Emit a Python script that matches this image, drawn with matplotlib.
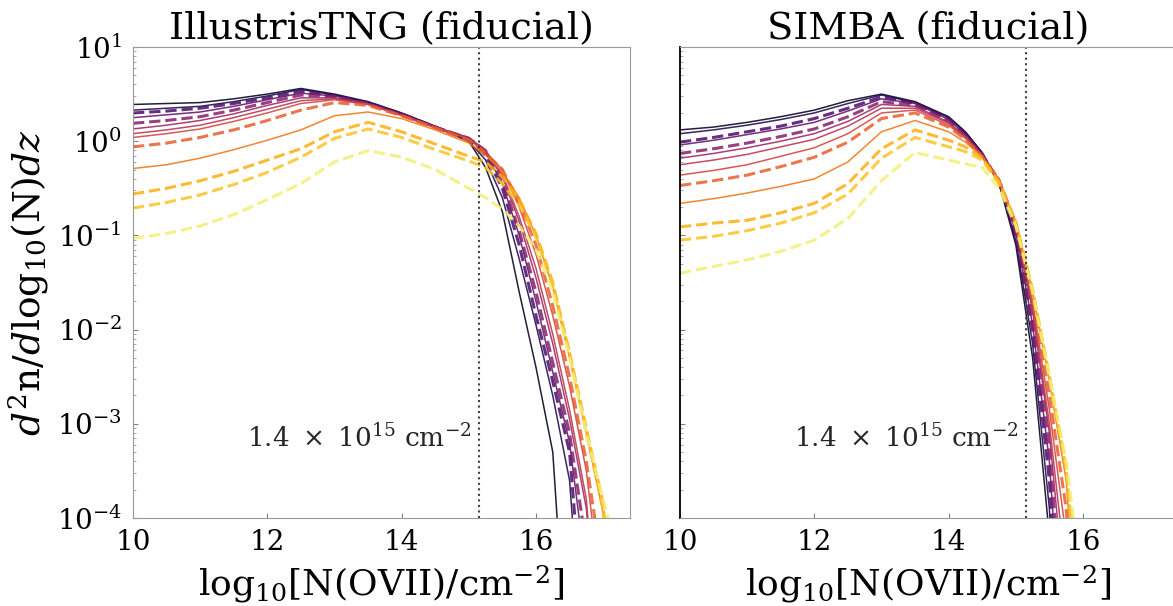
import numpy as np
import matplotlib
matplotlib.use("Agg")
import matplotlib.pyplot as plt

plt.rcParams["font.family"] = ["DejaVu Serif"]
plt.rcParams["mathtext.fontset"] = "dejavuserif"

# column density grid, log10 N [cm^-2]
x_tng = [10, 10.5, 11, 11.5, 12, 12.5, 13, 13.5, 14, 14.5, 15,
         15.25, 15.5, 15.75, 16, 16.25, 16.5, 16.75, 17, 17.25]
x_simba = [10, 10.5, 11, 11.5, 12, 12.5, 13, 13.5, 14, 14.25,
           14.5, 14.75, 15, 15.25, 15.5, 15.75, 16]

# log10 of d2n/dlogN dz, one row per run (dark -> light)
tng = [
    [0.39, 0.40, 0.41, 0.45, 0.50, 0.56, 0.50, 0.42, 0.30, 0.16, 0.00, -0.28, -0.75, -1.6, -2.4, -3.3, -6, -6, -6, -6],
    [0.33, 0.35, 0.37, 0.42, 0.48, 0.55, 0.49, 0.41, 0.29, 0.15, 0.00, -0.20, -0.60, -1.25, -1.95, -2.7, -3.6, -6, -6, -6],
    [0.30, 0.32, 0.35, 0.40, 0.46, 0.53, 0.48, 0.41, 0.29, 0.15, 0.02, -0.15, -0.50, -1.1, -1.85, -2.55, -3.3, -5.5, -6, -6],
    [0.25, 0.28, 0.31, 0.37, 0.44, 0.51, 0.48, 0.40, 0.29, 0.15, 0.03, -0.12, -0.45, -1.0, -1.7, -2.45, -3.2, -4.6, -6, -6],
    [0.19, 0.22, 0.26, 0.33, 0.41, 0.49, 0.47, 0.40, 0.28, 0.15, 0.03, -0.10, -0.42, -0.95, -1.6, -2.35, -3.1, -4.3, -6, -6],
    [0.13, 0.17, 0.22, 0.29, 0.38, 0.46, 0.46, 0.40, 0.28, 0.15, 0.04, -0.10, -0.38, -0.85, -1.45, -2.15, -2.95, -3.9, -6, -6],
    [0.08, 0.12, 0.17, 0.25, 0.34, 0.43, 0.45, 0.39, 0.28, 0.15, 0.03, -0.10, -0.35, -0.8, -1.35, -2.05, -2.85, -3.8, -6, -6],
    [0.04, 0.08, 0.13, 0.21, 0.30, 0.40, 0.44, 0.39, 0.27, 0.14, 0.02, -0.12, -0.30, -0.7, -1.2, -1.85, -2.6, -3.5, -5, -6],
    [-0.06, -0.02, 0.04, 0.12, 0.22, 0.33, 0.41, 0.38, 0.27, 0.14, 0.01, -0.13, -0.30, -0.65, -1.1, -1.75, -2.5, -3.4, -4.6, -6],
    [-0.29, -0.25, -0.18, -0.09, 0.01, 0.12, 0.27, 0.31, 0.24, 0.12, -0.02, -0.15, -0.32, -0.6, -1.0, -1.55, -2.3, -3.1, -3.95, -6],
    [-0.56, -0.50, -0.42, -0.32, -0.20, -0.08, 0.10, 0.20, 0.10, -0.03, -0.16, -0.22, -0.38, -0.62, -0.98, -1.5, -2.25, -3.05, -3.85, -6],
    [-0.71, -0.65, -0.57, -0.46, -0.33, -0.17, 0.03, 0.13, 0.04, -0.09, -0.21, -0.28, -0.45, -0.68, -1.02, -1.52, -2.25, -3.1, -3.9, -6],
    [-1.03, -0.98, -0.90, -0.78, -0.62, -0.45, -0.22, -0.10, -0.17, -0.30, -0.50, -0.60, -0.72, -0.9, -1.15, -1.6, -2.3, -3.1, -3.8, -4.5],
]

simba = [
    [0.12, 0.15, 0.20, 0.26, 0.33, 0.43, 0.50, 0.42, 0.26, 0.10, -0.12, -0.45, -1.10, -2.30, -4.2, -7, -7],
    [0.08, 0.12, 0.17, 0.23, 0.30, 0.40, 0.49, 0.41, 0.25, 0.09, -0.13, -0.44, -1.05, -2.15, -3.9, -7, -7],
    [-0.01, 0.04, 0.10, 0.16, 0.24, 0.35, 0.47, 0.40, 0.24, 0.08, -0.14, -0.43, -1.00, -2.00, -3.6, -6.5, -7],
    [-0.04, 0.01, 0.07, 0.13, 0.20, 0.32, 0.45, 0.40, 0.23, 0.07, -0.14, -0.42, -0.97, -1.95, -3.4, -6, -7],
    [-0.13, -0.08, -0.02, 0.05, 0.13, 0.26, 0.42, 0.38, 0.21, 0.06, -0.15, -0.42, -0.95, -1.90, -3.25, -5.5, -7],
    [-0.18, -0.13, -0.07, 0.00, 0.08, 0.21, 0.39, 0.37, 0.20, 0.05, -0.15, -0.41, -0.93, -1.80, -3.1, -5, -7],
    [-0.25, -0.20, -0.14, -0.06, 0.02, 0.16, 0.35, 0.35, 0.19, 0.04, -0.15, -0.41, -0.90, -1.75, -3.0, -4.6, -7],
    [-0.36, -0.31, -0.25, -0.16, -0.07, 0.08, 0.30, 0.33, 0.17, 0.03, -0.16, -0.41, -0.88, -1.70, -2.85, -4.2, -7],
    [-0.47, -0.42, -0.36, -0.27, -0.17, -0.01, 0.24, 0.30, 0.15, 0.02, -0.16, -0.41, -0.87, -1.65, -2.7, -3.9, -6.5],
    [-0.66, -0.61, -0.55, -0.48, -0.40, -0.22, 0.10, 0.22, 0.10, -0.01, -0.17, -0.42, -0.86, -1.60, -2.55, -3.6, -6],
    [-0.91, -0.87, -0.84, -0.76, -0.66, -0.45, -0.08, 0.12, 0.01, -0.06, -0.18, -0.43, -0.86, -1.58, -2.5, -3.5, -5.5],
    [-1.05, -1.01, -0.95, -0.87, -0.76, -0.56, -0.18, 0.04, -0.06, -0.11, -0.20, -0.45, -0.87, -1.58, -2.5, -3.45, -5.2],
    [-1.40, -1.33, -1.26, -1.17, -1.05, -0.82, -0.42, -0.12, -0.20, -0.24, -0.28, -0.50, -0.90, -1.60, -2.5, -3.4, -4.8],
]

cmap_pos = [0.06, 0.14, 0.22, 0.30, 0.36, 0.43, 0.50, 0.57, 0.64, 0.70, 0.82, 0.86, 0.95]
dashed = [False, False, True, False, True, False, False, False, True, False, True, True, True]
titles = ["IllustrisTNG (fiducial)", "SIMBA (fiducial)"]
n_crit = np.log10(1.4e15)

fig = plt.figure(figsize=(11.73, 6.06), dpi=100)
W, H = 1173, 606
ax1 = fig.add_axes([133 / W, 88 / H, 497 / W, 471 / H])
ax2 = fig.add_axes([680 / W, 88 / H, 497 / W, 471 / H])

cmap = plt.get_cmap("inferno")
for ax, xs, rows, title in [(ax1, x_tng, tng, titles[0]), (ax2, x_simba, simba, titles[1])]:
    for i, row in enumerate(rows):
        c = cmap(cmap_pos[i])
        if dashed[i]:
            ax.plot(xs, 10 ** np.array(row), color=c, lw=2.2, ls="--", alpha=0.85)
        else:
            ax.plot(xs, 10 ** np.array(row), color=c, lw=1.1, alpha=0.9)
    ax.axvline(n_crit, color="0.25", ls=":", lw=1.5)
    ax.text(n_crit - 0.1, 10 ** -3.15, r"$1.4\ \times\ 10^{15}$ cm$^{-2}$",
            ha="right", va="center", fontsize=19, color="0.15")
    ax.set_yscale("log")
    ax.set_ylim(1e-4, 10)
    ax.set_xlim(10, 17.4)
    ax.set_xticks([10, 12, 14, 16])
    ax.set_title(title, fontsize=27.5, pad=3)
    ax.set_xlabel(r"log$_{10}$[N(OVII)/cm$^{-2}$]", fontsize=26, labelpad=5)
    ax.tick_params(direction="in", labelsize=20, color="0.5", pad=8)
    ax.tick_params(which="minor", direction="in", color="0.6")
    for s in ax.spines.values():
        s.set_color("0.6")

ax1.set_ylabel(r"$d^2$n/$d$log$_{10}$(N)$dz$", fontsize=27, labelpad=4)
ax2.tick_params(labelleft=False)
ax2.spines["left"].set_color("black")
ax2.spines["left"].set_linewidth(1.3)

fig.savefig("out.png", dpi=100)
